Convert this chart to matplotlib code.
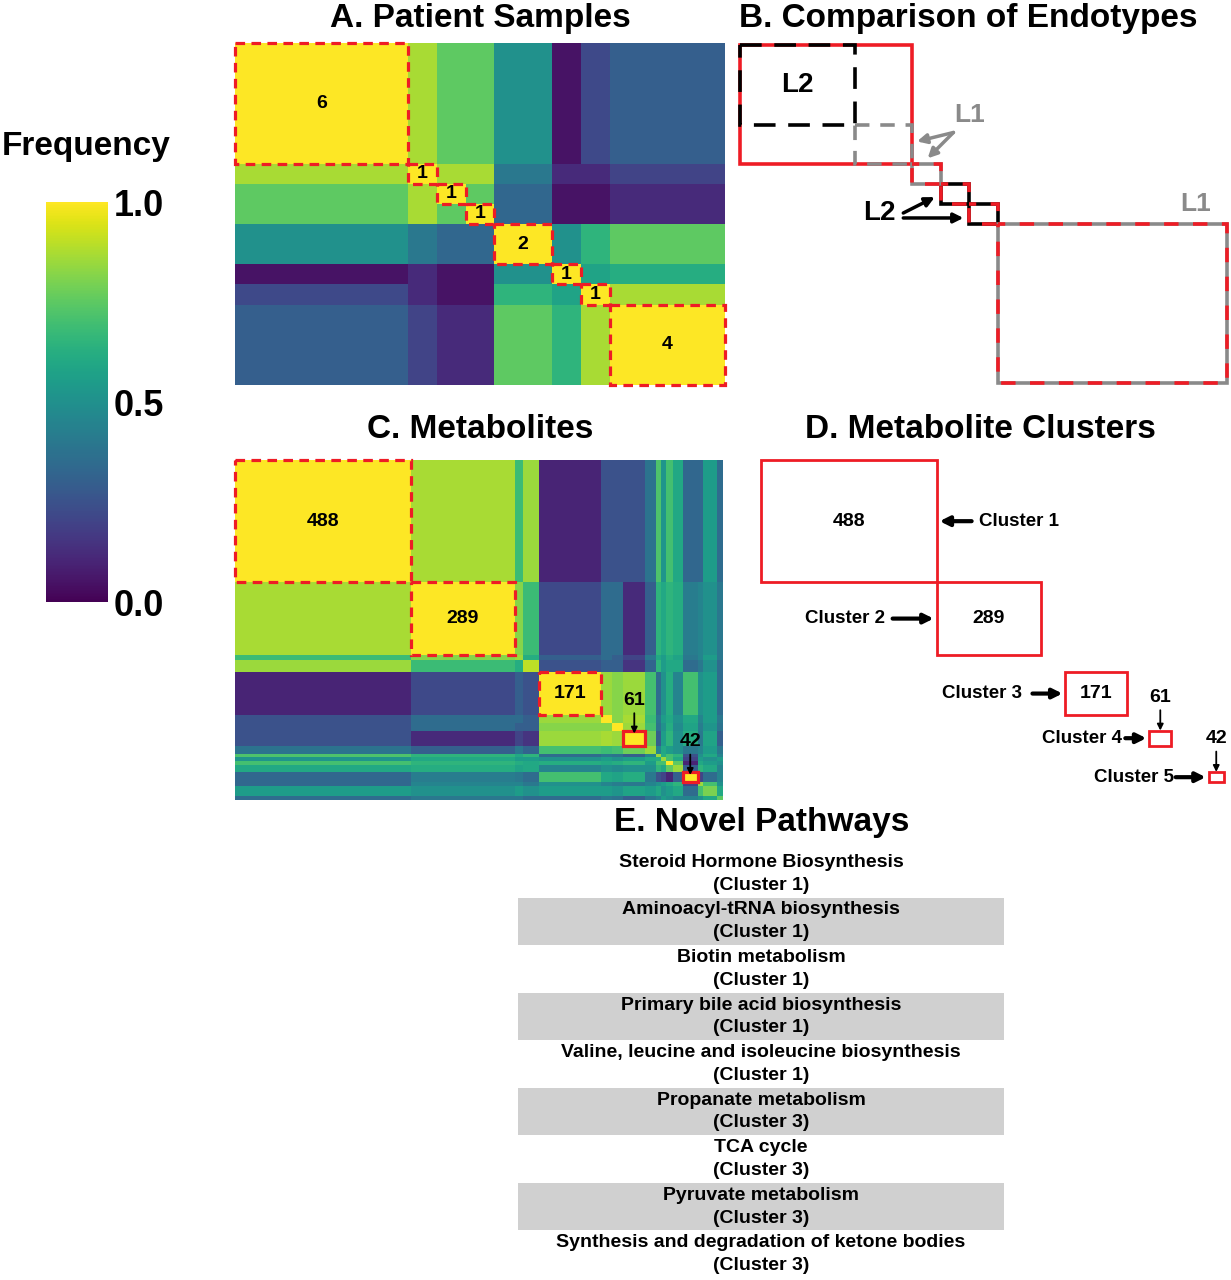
import numpy as np
import matplotlib
matplotlib.use('Agg')
import matplotlib.pyplot as plt
from matplotlib.patches import Rectangle

plt.rcParams['font.family'] = ['Liberation Sans', 'DejaVu Sans']
plt.rcParams['font.weight'] = 'bold'

W, H = 1231, 1280
RED = '#ee1c25'
GRAY = '#8a8a8a'

# A. patient consensus blocks (sizes along the diagonal) and block frequencies
patient_blocks = [6, 1, 1, 1, 2, 1, 1, 4]
patient_freq = [
    [1.00, 0.87, 0.75, 0.75, 0.50, 0.05, 0.22, 0.30],
    [0.87, 1.00, 0.87, 0.87, 0.40, 0.12, 0.12, 0.20],
    [0.75, 0.87, 1.00, 0.75, 0.33, 0.05, 0.05, 0.12],
    [0.75, 0.87, 0.75, 1.00, 0.33, 0.05, 0.05, 0.12],
    [0.50, 0.40, 0.33, 0.33, 1.00, 0.50, 0.65, 0.75],
    [0.05, 0.12, 0.05, 0.05, 0.50, 1.00, 0.58, 0.62],
    [0.22, 0.12, 0.05, 0.05, 0.65, 0.58, 1.00, 0.87],
    [0.30, 0.20, 0.12, 0.12, 0.75, 0.65, 0.87, 1.00],
]

# B. endotype blocks (patient index ranges)
red_blocks = [(0, 6), (6, 7), (7, 8), (8, 9), (9, 17)]
l2_blocks = [(0, 4), (7, 8), (8, 9)]
l1_blocks = [(4, 6), (6, 7), (9, 17)]

# C. metabolite segments along the diagonal and block frequencies
metab_sizes = [488, 289, 22, 47, 171, 31, 31, 61, 31, 14, 14, 17, 28, 42, 14, 39, 17]
metab_freq = [
    [1.00, 0.87, 0.68, 0.85, 0.10, 0.25, 0.25, 0.25, 0.38, 0.72, 0.52, 0.70, 0.60, 0.33, 0.33, 0.55, 0.35],
    [0.87, 1.00, 0.82, 0.68, 0.22, 0.35, 0.35, 0.12, 0.30, 0.65, 0.60, 0.65, 0.62, 0.42, 0.45, 0.50, 0.40],
    [0.68, 0.82, 0.85, 0.62, 0.30, 0.35, 0.30, 0.20, 0.40, 0.60, 0.55, 0.62, 0.58, 0.40, 0.45, 0.55, 0.40],
    [0.85, 0.68, 0.62, 0.90, 0.25, 0.30, 0.30, 0.15, 0.32, 0.65, 0.55, 0.60, 0.60, 0.35, 0.40, 0.50, 0.35],
    [0.10, 0.22, 0.30, 0.25, 1.00, 0.85, 0.82, 0.85, 0.70, 0.35, 0.50, 0.62, 0.45, 0.70, 0.50, 0.55, 0.35],
    [0.25, 0.35, 0.35, 0.30, 0.85, 1.00, 0.82, 0.87, 0.68, 0.40, 0.55, 0.60, 0.50, 0.60, 0.45, 0.55, 0.40],
    [0.25, 0.35, 0.30, 0.30, 0.82, 0.82, 1.00, 0.85, 0.70, 0.38, 0.50, 0.62, 0.48, 0.58, 0.42, 0.52, 0.38],
    [0.25, 0.12, 0.20, 0.15, 0.85, 0.87, 0.85, 1.00, 0.78, 0.30, 0.55, 0.65, 0.50, 0.62, 0.40, 0.58, 0.30],
    [0.38, 0.30, 0.40, 0.32, 0.70, 0.68, 0.70, 0.78, 0.85, 0.45, 0.60, 0.55, 0.50, 0.40, 0.45, 0.55, 0.40],
    [0.72, 0.65, 0.60, 0.65, 0.35, 0.40, 0.38, 0.30, 0.45, 0.85, 0.62, 0.70, 0.65, 0.25, 0.50, 0.60, 0.45],
    [0.52, 0.60, 0.55, 0.55, 0.50, 0.55, 0.50, 0.55, 0.60, 0.62, 0.85, 0.70, 0.60, 0.20, 0.55, 0.50, 0.55],
    [0.70, 0.65, 0.62, 0.60, 0.62, 0.60, 0.62, 0.65, 0.55, 0.70, 0.70, 1.00, 0.75, 0.10, 0.60, 0.55, 0.50],
    [0.60, 0.62, 0.58, 0.60, 0.45, 0.50, 0.48, 0.50, 0.50, 0.65, 0.60, 0.75, 0.85, 0.30, 0.65, 0.60, 0.45],
    [0.33, 0.42, 0.40, 0.35, 0.70, 0.60, 0.58, 0.62, 0.40, 0.25, 0.20, 0.10, 0.30, 1.00, 0.20, 0.35, 0.45],
    [0.33, 0.45, 0.45, 0.40, 0.50, 0.45, 0.42, 0.40, 0.45, 0.50, 0.55, 0.60, 0.65, 0.20, 0.85, 0.70, 0.50],
    [0.55, 0.50, 0.55, 0.50, 0.55, 0.55, 0.52, 0.58, 0.55, 0.60, 0.50, 0.55, 0.60, 0.35, 0.70, 0.80, 0.60],
    [0.35, 0.40, 0.40, 0.35, 0.35, 0.40, 0.38, 0.30, 0.40, 0.45, 0.55, 0.50, 0.45, 0.45, 0.50, 0.60, 0.75],
]
cluster_seg = [0, 1, 4, 7, 13]
cluster_names = ['Cluster 1', 'Cluster 2', 'Cluster 3', 'Cluster 4', 'Cluster 5']

# E. novel pathways
pathways = ['Steroid Hormone Biosynthesis', 'Aminoacyl-tRNA biosynthesis', 'Biotin metabolism',
            'Primary bile acid biosynthesis', 'Valine, leucine and isoleucine biosynthesis',
            'Propanate metabolism', 'TCA cycle', 'Pyruvate metabolism',
            'Synthesis and degradation of ketone bodies']
pathway_cluster = [1, 1, 1, 1, 1, 3, 3, 3, 3]


fig = plt.figure(figsize=(W / 100, H / 100), dpi=100)


def add_ax(x0, y0, x1, y1):
    ax = fig.add_axes([x0 / W, 1 - y1 / H, (x1 - x0) / W, (y1 - y0) / H])
    ax.axis('off')
    return ax


def title(x, y, s):
    fig.text(x / W, 1 - y / H, s, ha='center', va='center', fontsize=24)


# ---- A
axA = add_ax(235, 43, 725, 385)
ea = np.concatenate([[0], np.cumsum(patient_blocks)])
mesh = axA.pcolormesh(ea, ea, np.array(patient_freq), cmap='viridis', vmin=0, vmax=1)
axA.set_xlim(0, ea[-1])
axA.set_ylim(ea[-1], 0)
for s, e, n in zip(ea[:-1], ea[1:], patient_blocks):
    axA.add_patch(Rectangle((s, s), e - s, e - s, fill=False, ec=RED, lw=2.3,
                            ls=(0, (3, 2)), clip_on=False))
    axA.text((s + e) / 2, (s + e) / 2, str(n), ha='center', va='center', fontsize=14)
title(480, 18, 'A. Patient Samples')

# ---- colorbar
cax = add_ax(46, 202, 108, 602)
cax.axis('on')
cb = fig.colorbar(mesh, cax=cax, ticks=[0, 0.5, 1])
cb.outline.set_visible(False)
cax.tick_params(length=0, labelsize=26, pad=4)
cax.set_yticklabels(['0.0', '0.5', '1.0'])
fig.text(86 / W, 1 - 147 / H, 'Frequency', ha='center', va='center', fontsize=24)

# ---- B
axB = add_ax(740, 45, 1227, 383)
axB.set_xlim(0, 17)
axB.set_ylim(17, 0)
s0, e0 = red_blocks[0]
axB.add_patch(Rectangle((s0, s0), e0 - s0, e0 - s0, fill=False, ec=RED, lw=2.6, clip_on=False))
for s, e in l2_blocks:
    inside = s >= s0 and e <= e0
    axB.add_patch(Rectangle((s, s), e - s, e - s, fill=False, ec='k', lw=2.6,
                            ls=(0, (6, 3.5)) if inside else '-', clip_on=False, zorder=3))
for s, e in l1_blocks:
    inside = s >= s0 and e <= e0
    axB.add_patch(Rectangle((s, s), e - s, e - s, fill=False, ec=GRAY, lw=2.6,
                            ls=(0, (4, 3)) if inside else '-', clip_on=False, zorder=3))
for s, e in red_blocks[1:]:
    axB.add_patch(Rectangle((s, s), e - s, e - s, fill=False, ec=RED, lw=2.6,
                            ls=(2, (4, 4)), clip_on=False, zorder=4))
lb = l2_blocks[0]
axB.text((lb[0] + lb[1]) / 2, (lb[0] + lb[1]) / 2, 'L2', ha='center', va='center', fontsize=20)
g = l1_blocks[0]
axB.text(g[1] + 2.0, g[0] - 0.5, 'L1', color=GRAY, ha='center', va='center', fontsize=19)
for tip in [(g[1] + 0.18, g[0] + 0.85), (g[1] + 0.55, g[1] - 0.3)]:
    axB.annotate('', xy=tip, xytext=(g[1] + 1.45, g[0] + 0.4),
                 arrowprops=dict(arrowstyle='-|>', color=GRAY, lw=2.5, mutation_scale=14,
                                 shrinkA=0, shrinkB=0))
b1, b2 = l2_blocks[1], l2_blocks[2]
axB.text(b1[0] - 2.15, b1[1] + 0.45, 'L2', ha='center', va='center', fontsize=20)
axB.annotate('', xy=(b1[0] - 0.2, b1[0] + 0.65), xytext=(b1[0] - 1.3, b1[1] + 0.45),
             arrowprops=dict(arrowstyle='-|>', color='k', lw=2.5, mutation_scale=14,
                             shrinkA=0, shrinkB=0))
axB.annotate('', xy=(b2[0] - 0.2, b2[0] + 0.7), xytext=(b1[0] - 1.3, b2[0] + 0.7),
             arrowprops=dict(arrowstyle='-|>', color='k', lw=2.5, mutation_scale=14,
                             shrinkA=0, shrinkB=0))
big = l1_blocks[2]
axB.text(big[1] - 1.1, big[0] - 1.0, 'L1', color=GRAY, ha='center', va='center', fontsize=19)
title(968, 18, 'B. Comparison of Endotypes')

# ---- C
axC = add_ax(235, 460, 723, 800)
ec = np.concatenate([[0], np.cumsum(metab_sizes)])
N = ec[-1]
axC.pcolormesh(ec, ec, np.array(metab_freq), cmap='viridis', vmin=0, vmax=1)
axC.set_xlim(0, N)
axC.set_ylim(N, 0)
sx = N / 488.0
sy = N / 340.0
starts = ec[cluster_seg]
ends = ec[np.array(cluster_seg) + 1]
for k, (s, e) in enumerate(zip(starts, ends)):
    n = e - s
    small = k >= 3
    axC.add_patch(Rectangle((s, s), n, n, fill=False, ec=RED, lw=2.3,
                            ls='-' if small else (0, (3, 2)), clip_on=False))
    mid = (s + e) / 2
    if not small:
        axC.text(mid, mid, str(n), ha='center', va='center', fontsize=14)
    else:
        axC.annotate(str(n), xy=(mid, s + 3 * sy), xytext=(mid, s - 30 * sy),
                     ha='center', va='center', fontsize=14,
                     arrowprops=dict(arrowstyle='-|>', color='k', lw=1.3, mutation_scale=9,
                                     shrinkA=1, shrinkB=0))
title(480, 430, 'C. Metabolites')

# ---- D
axD = add_ax(761, 460, 1249, 800)
axD.set_xlim(0, N)
axD.set_ylim(N, 0)
text_gap = [42, 52, 43, 27, 35]
arrow_len = [32, 41, 30, 21, 30]
for k, (s, e) in enumerate(zip(starts, ends)):
    n = e - s
    mid = (s + e) / 2
    axD.add_patch(Rectangle((s, s), n, n, fill=False, ec=RED, lw=2.0, clip_on=False))
    if k < 3:
        axD.text(mid, mid, str(n), ha='center', va='center', fontsize=14)
    else:
        axD.annotate(str(n), xy=(mid, s), xytext=(mid, s - 33 * sy),
                     ha='center', va='center', fontsize=14,
                     arrowprops=dict(arrowstyle='-|>', color='k', lw=1.3, mutation_scale=9,
                                     shrinkA=1, shrinkB=0))
    if k == 0:
        axD.annotate('', xy=(e + 3 * sx, mid), xytext=(e + (3 + arrow_len[k]) * sx, mid),
                     arrowprops=dict(arrowstyle='-|>', color='k', lw=3, mutation_scale=14,
                                     shrinkA=0, shrinkB=0))
        axD.text(e + text_gap[k] * sx, mid, cluster_names[k], ha='left', va='center', fontsize=13.5)
    else:
        axD.annotate('', xy=(s - 3 * sx, mid), xytext=(s - (3 + arrow_len[k]) * sx, mid),
                     arrowprops=dict(arrowstyle='-|>', color='k', lw=3, mutation_scale=14,
                                     shrinkA=0, shrinkB=0))
        axD.text(s - text_gap[k] * sx, mid, cluster_names[k], ha='right', va='center', fontsize=13.5)
title(980, 430, 'D. Metabolite Clusters')

# ---- E
axE = add_ax(518, 850, 1004, 1278)
axE.set_xlim(0, 1)
axE.set_ylim(len(pathways), 0)
for i, (p, c) in enumerate(zip(pathways, pathway_cluster)):
    if i % 2 == 1:
        axE.axhspan(i, i + 1, color='#d0d0d0', lw=0)
    axE.text(0.5, i + 0.26, p, ha='center', va='center', fontsize=14)
    axE.text(0.5, i + 0.74, '(Cluster %d)' % c, ha='center', va='center', fontsize=14)
title(762, 823, 'E. Novel Pathways')

fig.savefig('out.png', dpi=100)
